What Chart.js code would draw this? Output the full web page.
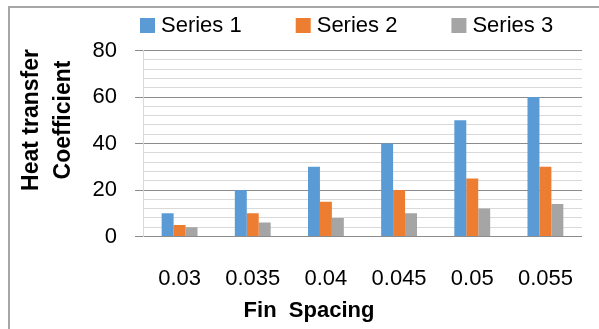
<!DOCTYPE html>
<html>
<head>
<meta charset="utf-8">
<style>
  html, body { margin: 0; padding: 0; background: #fff; }
  #wrap { position: relative; width: 599px; height: 329px; overflow: hidden; }
  #frame { position: absolute; left: 8px; top: 6px; width: 700px; height: 400px;
           border-top: 2px solid #a6a6a6; border-left: 2px solid #a6a6a6; box-sizing: border-box; }
  canvas { position: absolute; left: 0; top: 0; }
</style>
<script src="https://cdn.jsdelivr.net/npm/chart.js@4/dist/chart.umd.min.js"></script>
</head>
<body>
<div id="wrap">
  <div id="frame"></div>
  <canvas id="c" width="599" height="329"></canvas>
</div>
<script>
// Fin spacing categories and heat transfer coefficients per series
const finSpacing = ['0.03', '0.035', '0.04', '0.045', '0.05', '0.055'];
const series1 = [10, 20, 30, 40, 50, 60];
const series2 = [5, 10, 15, 20, 25, 30];
const series3 = [4, 6, 8, 10, 12, 14];
const seriesNames = ['Series 1', 'Series 2', 'Series 3'];
const yTitleLines = ['Heat transfer', 'Coefficient'];
const xTitle = 'Fin  Spacing';

const colors = ['#5B9BD5', '#ED7D31', '#A5A5A5'];
const FONT = '"Liberation Sans", Arial, sans-serif';

// Legend row and axis titles, drawn on the chart canvas
const decorations = {
  id: 'decorations',
  afterDraw(chart) {
    const ctx = chart.ctx;
    ctx.save();
    // legend
    ctx.font = '22px ' + FONT;
    ctx.textBaseline = 'alphabetic';
    ctx.textAlign = 'left';
    let x = 140;
    chart.data.datasets.forEach((ds) => {
      ctx.fillStyle = ds.backgroundColor;
      ctx.fillRect(x, 18, 15, 15);
      ctx.fillStyle = '#000';
      ctx.fillText(ds.label, x + 21, 32);
      x += 21 + ctx.measureText(ds.label).width + 54;
    });
    // y axis title (two rotated lines)
    ctx.font = 'bold 23px ' + FONT;
    ctx.textAlign = 'center';
    ctx.fillStyle = '#000';
    const baselines = [38, 70];
    yTitleLines.forEach((line, i) => {
      ctx.save();
      ctx.translate(baselines[i], 120);
      ctx.rotate(-Math.PI / 2);
      ctx.fillText(line, 0, 0);
      ctx.restore();
    });
    // x axis title
    ctx.font = 'bold 22px ' + FONT;
    ctx.fillText(xTitle, 309, 317);
    ctx.restore();
  }
};

new Chart(document.getElementById('c'), {
  type: 'bar',
  data: {
    labels: finSpacing,
    datasets: [series1, series2, series3].map((vals, i) => ({
      label: seriesNames[i],
      data: vals,
      backgroundColor: colors[i],
      borderWidth: 0,
      categoryPercentage: 0.49,
      barPercentage: 1.0
    }))
  },
  options: {
    responsive: false,
    animation: false,
    devicePixelRatio: 1,
    layout: { padding: { left: 9, right: 17, top: 50.5, bottom: 32.5 } },
    plugins: {
      legend: { display: false },
      tooltip: { enabled: false }
    },
    scales: {
      x: {
        grid: { display: false },
        border: { display: false },
        ticks: {
          padding: 21,
          color: '#000',
          font: { family: FONT, size: 22 },
          maxRotation: 0,
          autoSkip: false
        },
        afterFit(scale) { scale.height = 60; }
      },
      y: {
        min: 0,
        max: 80,
        border: { display: true, color: '#d9d9d9', width: 1 },
        grid: {
          color: (c) => (c.tick && c.tick.value % 20 === 0) ? '#8c8c8c' : '#d9d9d9',
          tickColor: (c) => (c.tick && c.tick.value % 20 === 0) ? '#8c8c8c' : 'rgba(0,0,0,0)',
          tickLength: 8,
          lineWidth: 1
        },
        ticks: {
          stepSize: 4,
          autoSkip: false,
          padding: 18,
          color: '#000',
          font: { family: FONT, size: 22 },
          callback: (v) => (v % 20 === 0 ? String(v) : '')
        },
        afterFit(scale) { scale.width = 134; }
      }
    }
  },
  plugins: [decorations]
});
</script>
</body>
</html>
